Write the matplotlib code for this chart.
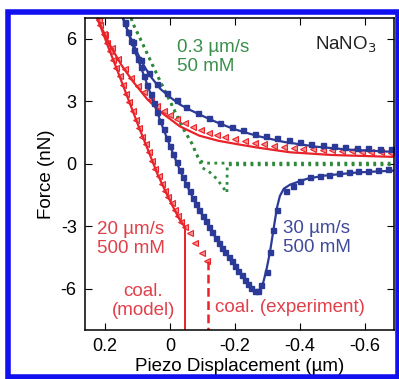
import matplotlib.pyplot as plt
from matplotlib.patches import Rectangle

plt.rcParams.update({
    "font.family": ["Liberation Sans", "DejaVu Sans"], "font.size": 13,
    "axes.unicode_minus": False, "axes.linewidth": 1.1,
    "xtick.direction": "in", "ytick.direction": "in",
    "xtick.top": True, "ytick.right": True,
    "xtick.major.size": 5, "ytick.major.size": 5,
})

BLUE, RED, GREEN = "#2b3a97", "#e8232a", "#2f8a3c"
BLUE_T, RED_T, GREEN_T = "#3f4a9c", "#e0404a", "#3a8f4c"
FRAME = "#1010f0"

# 30 um/s, 500 mM (blue)
bl_app_x = [0.145, 0.12, 0.10, 0.08, 0.06, 0.03, 0.0, -0.03, -0.06, -0.10, -0.15,
            -0.20, -0.27, -0.35, -0.45, -0.55, -0.69]
bl_app_y = [7.0, 6.0, 5.3, 4.7, 4.2, 3.6, 3.2, 2.85, 2.6, 2.3, 1.95,
            1.65, 1.33, 1.05, 0.82, 0.68, 0.57]
bl_app_mx = [0.14, 0.115, 0.09, 0.065, 0.04, 0.01, -0.02, -0.05, -0.085, -0.12, -0.155,
             -0.19, -0.225, -0.26, -0.295, -0.33, -0.365, -0.40, -0.435, -0.47, -0.505,
             -0.54, -0.575, -0.61, -0.645, -0.68]
bl_app_my = [6.8, 5.85, 5.0, 4.35, 3.85, 3.4, 3.05, 2.75, 2.45, 2.2, 1.95,
             1.75, 1.6, 1.45, 1.33, 1.22, 1.12, 1.04, 0.97, 0.91, 0.86,
             0.82, 0.78, 0.75, 0.72, 0.7]
bl_ret_x = [0.145, 0.12, 0.095, 0.07, 0.045, 0.02, -0.005, -0.03, -0.055, -0.08, -0.113,
            -0.14, -0.163, -0.19, -0.215, -0.24, -0.256, -0.266, -0.276, -0.287, -0.298,
            -0.308, -0.316, -0.323, -0.33, -0.338, -0.35, -0.37, -0.42, -0.47, -0.575, -0.69]
bl_ret_y = [7.0, 5.9, 4.85, 3.8, 2.7, 1.65, 0.65, -0.3, -1.15, -1.95, -2.85,
            -3.55, -4.1, -4.7, -5.25, -5.8, -6.1, -6.15, -6.05, -5.7, -5.0,
            -4.2, -3.4, -2.7, -2.05, -1.55, -1.2, -1.0, -0.73, -0.58, -0.42, -0.33]
bl_ret_mx = [0.14, 0.13, 0.12, 0.11, 0.10, 0.09, 0.08, 0.07, 0.06, 0.05, 0.04, 0.03,
             0.02, 0.01, 0.0, -0.01, -0.02, -0.03, -0.04, -0.05, -0.06, -0.07, -0.08,
             -0.09, -0.10, -0.11, -0.12, -0.13, -0.14, -0.15, -0.16, -0.17, -0.18,
             -0.19, -0.20, -0.21, -0.22, -0.23, -0.24, -0.25, -0.26, -0.27,
             -0.28, -0.297, -0.308, -0.318, -0.33, -0.357, -0.377,
             -0.40, -0.43, -0.46, -0.49, -0.52, -0.55, -0.58, -0.61, -0.64, -0.67]
bl_ret_my = [6.78, 6.34, 5.9, 5.48, 5.06, 4.64, 4.22, 3.8, 3.36, 2.92, 2.48, 2.07,
             1.65, 1.25, 0.85, 0.46, 0.08, -0.3, -0.64, -0.98, -1.31, -1.63, -1.95,
             -2.22, -2.5, -2.77, -3.03, -3.29, -3.55, -3.79, -4.03, -4.25, -4.48,
             -4.7, -4.92, -5.14, -5.36, -5.58, -5.8, -5.99, -6.12, -6.1,
             -5.85, -5.2, -4.25, -3.2, -2.2, -1.3, -1.05,
             -0.82, -0.66, -0.58, -0.52, -0.45, -0.42, -0.37, -0.33, -0.3, -0.27]

# 20 um/s, 500 mM (red)
rd_app_x = [0.225, 0.185, 0.15, 0.114, 0.07, 0.03, -0.03, -0.09, -0.15, -0.215, -0.268,
            -0.37, -0.5, -0.69]
rd_app_y = [7.0, 5.7, 4.75, 3.95, 3.1, 2.5, 1.8, 1.35, 1.1, 0.92, 0.78,
            0.55, 0.42, 0.33]
rd_app_mx = [0.22, 0.20, 0.18, 0.16, 0.14, 0.12, 0.10, 0.08, 0.06, 0.04, 0.02, 0.0,
             -0.02, -0.045, -0.07, -0.095, -0.12, -0.145, -0.17, -0.2, -0.23, -0.26,
             -0.29, -0.32, -0.35, -0.38, -0.41, -0.44, -0.47, -0.5, -0.53, -0.56,
             -0.59, -0.62, -0.65, -0.68]
rd_app_my = [6.9, 6.2, 5.55, 5.05, 4.55, 4.1, 3.75, 3.45, 3.1, 2.8, 2.55, 2.35,
             2.15, 1.95, 1.75, 1.6, 1.47, 1.37, 1.28, 1.18, 1.08, 1.0,
             0.93, 0.87, 0.82, 0.77, 0.73, 0.7, 0.67, 0.64, 0.62, 0.6,
             0.58, 0.56, 0.55, 0.54]
rd_ret_x = [0.225, 0.19, 0.159, 0.125, 0.092, 0.065, 0.04, 0.015, -0.01, -0.03, -0.046]
rd_ret_y = [7.05, 5.6, 4.35, 2.95, 1.6, 0.55, -0.45, -1.3, -2.1, -2.7, -3.05]
rd_ret_mx = [0.215, 0.205, 0.195, 0.185, 0.175, 0.165, 0.155, 0.145, 0.135, 0.125,
             0.115, 0.105, 0.095, 0.085, 0.075, 0.065, 0.055, 0.045, 0.035, 0.025,
             0.015, 0.005, -0.005, -0.015, -0.025, -0.035, -0.046, -0.0615, -0.077,
             -0.0975, -0.113]
rd_ret_my = [6.65, 6.25, 5.8, 5.4, 5.0, 4.6, 4.2, 3.8, 3.35, 2.95,
             2.55, 2.1, 1.7, 1.3, 0.95, 0.55, 0.15, -0.25, -0.6, -0.95,
             -1.3, -1.6, -1.9, -2.2, -2.5, -2.8, -3.05, -3.35, -3.83,
             -4.3, -4.7]
coal_model_x = -0.046
coal_exp_x = -0.117

# 0.3 um/s, 50 mM (green)
gr_app_x = [0.12, 0.113, 0.09, 0.06, 0.03, 0.0, -0.02, -0.04, -0.068, -0.08, -0.092,
            -0.108, -0.2, -0.3, -0.4, -0.5, -0.6, -0.69]
gr_app_y = [7.0, 6.7, 5.95, 4.95, 3.95, 3.0, 2.35, 1.7, 0.95, 0.5, 0.15,
            0.03, 0.03, 0.03, 0.03, 0.03, 0.03, 0.03]
gr_ret_x = [0.12, 0.113, 0.09, 0.06, 0.03, 0.0, -0.02, -0.04, -0.068, -0.08, -0.092,
            -0.1, -0.123, -0.144, -0.159, -0.175, -0.176, -0.3, -0.4, -0.5, -0.6, -0.69]
gr_ret_y = [7.0, 6.7, 5.95, 4.95, 3.95, 3.0, 2.35, 1.7, 0.95, 0.5, 0.1,
            -0.2, -0.42, -0.73, -1.05, -1.4, -0.05, -0.05, -0.05, -0.05, -0.05, -0.05]

xticks = [0.2, 0, -0.2, -0.4, -0.6]
yticks = [6, 3, 0, -3, -6]

fig = plt.figure(figsize=(3.99, 3.79), dpi=100)
ax = fig.add_axes([0.213, 0.129, 0.775, 0.823])

# green dotted curves
ax.plot(gr_app_x, gr_app_y, color=GREEN, ls=(0, (1, 1.6)), lw=2)
ax.plot(gr_ret_x, gr_ret_y, color=GREEN, ls=(0, (1, 1.6)), lw=2)

# red
ax.plot(rd_app_mx, rd_app_my, ls="none", marker="<", ms=4.5, mfc="#f39090", mec=RED, mew=0.8)
ax.plot(rd_ret_mx, rd_ret_my, ls="none", marker="<", ms=4.5, mfc="#f39090", mec=RED, mew=0.8)
ax.plot(rd_app_x, rd_app_y, color=RED, lw=1.6)
ax.plot(rd_ret_x, rd_ret_y, color=RED, lw=1.6)
ax.plot([coal_model_x, coal_model_x], [rd_ret_y[-1], -8], color=RED, lw=1.4)
ax.plot([coal_exp_x, coal_exp_x], [rd_ret_my[-1], -8], color=RED, lw=1.8, ls=(0, (3.5, 1.8)))

# blue
ax.plot(bl_app_mx, bl_app_my, ls="none", marker="s", ms=3.6, color=BLUE)
ax.plot(bl_ret_mx, bl_ret_my, ls="none", marker="s", ms=3.6, color=BLUE)
ax.plot(bl_app_x, bl_app_y, color=BLUE, lw=1.6)
ax.plot(bl_ret_x, bl_ret_y, color=BLUE, lw=1.6)

ax.set_xlim(0.262, -0.69)
ax.set_ylim(-8, 7)
ax.set_xticks(xticks)
ax.set_xticklabels(["0.2", "0", "-0.2", "-0.4", "-0.6"])
ax.set_yticks(yticks)
ax.tick_params(pad=6, labelsize=13)
ax.set_xlabel("Piezo Displacement (\u00b5m)", fontsize=13.5, labelpad=2)
ax.set_ylabel("Force (nN)", fontsize=13.5, labelpad=4)

ax.text(-0.022, 5.15, "0.3 \u00b5m/s\n50 mM", color=GREEN_T, fontsize=13.5,
        va="center", ha="left", linespacing=1.15)
ax.text(-0.445, 5.7, "NaNO$_3$", color="#222222", fontsize=13.5, va="center", ha="left")
ax.text(0.225, -3.6, "20 \u00b5m/s\n500 mM", color=RED_T, fontsize=13.5,
        va="center", ha="left", linespacing=1.15)
ax.text(0.082, -6.6, "coal.\n(model)", color=RED_T, fontsize=13.5,
        va="center", ha="center", linespacing=1.15)
ax.text(-0.138, -6.9, "coal. (experiment)", color=RED_T, fontsize=13.5, va="center", ha="left")
ax.text(-0.348, -3.57, "30 \u00b5m/s\n500 mM", color=BLUE_T, fontsize=13.5,
        va="center", ha="left", linespacing=1.15)

fig.patches.append(Rectangle((0.0213, 0.004), 0.976, 0.964, transform=fig.transFigure,
                             fill=False, ec=FRAME, lw=4, clip_on=False))

fig.savefig("out.png", dpi=100)
